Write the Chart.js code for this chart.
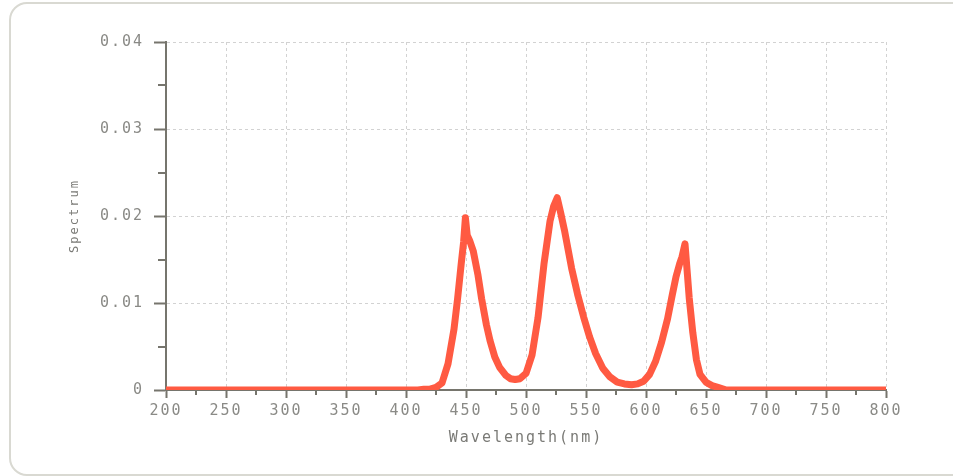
<!DOCTYPE html>
<html>
<head>
<meta charset="utf-8">
<script src="https://cdn.jsdelivr.net/npm/chart.js@4"></script>
<style>
    html, body { margin: 0; padding: 0; background: #fff; }
    #wrap { position: relative; width: 953px; height: 476px; overflow: hidden; }
    #frame {
        position: absolute; left: 9px; top: 2px; width: 970px; height: 470px;
        border: 2px solid #d9d9d2; border-radius: 18px; pointer-events: none;
    }
    canvas { position: absolute; left: 0; top: 0; }
</style>
</head>
<body>
<div id="wrap">
    <canvas id="spectrumChart" width="953" height="476"></canvas>
    <div id="frame"></div>
</div>
<script>
// Data
const wavelengths = [200, 300, 400, 410, 415, 420, 425, 430, 435, 440, 443, 446, 448, 449.5, 451, 453, 456, 460, 463, 467, 470, 474, 478, 483, 487, 491, 495, 500, 505, 510, 515, 520, 523, 526, 529, 532, 538, 543, 548, 553, 558, 564, 570, 576, 582, 588, 593, 598, 603, 608, 613, 618, 622, 625, 628, 630, 632.5, 634.5, 636, 639, 642, 645, 650, 655, 660, 667, 700, 800];
const spectrum = [0, 0, 0, 0, 0.0001, 0.0001, 0.0003, 0.0008, 0.0030, 0.0070, 0.0105, 0.0145, 0.0170, 0.0198, 0.0178, 0.0172, 0.0160, 0.0132, 0.0105, 0.0075, 0.0057, 0.0038, 0.0026, 0.0017, 0.0013, 0.0012, 0.0013, 0.0019, 0.0040, 0.0083, 0.0145, 0.0194, 0.0211, 0.0221, 0.0203, 0.0184, 0.0140, 0.0110, 0.0084, 0.0061, 0.0042, 0.0025, 0.0015, 0.0009, 0.0007, 0.0006, 0.0007, 0.0010, 0.0018, 0.0033, 0.0055, 0.0082, 0.0110, 0.0130, 0.0145, 0.0153, 0.0168, 0.0133, 0.0106, 0.0066, 0.0035, 0.0018, 0.0009, 0.0005, 0.0003, 0, 0, 0];

const xTicks = { min: 200, max: 800, step: 25 };
const yTicks = { min: 0, max: 0.04, step: 0.005 };

const axisColor = '#76756d';
const gridColor = '#d2d2d2';
const labelColor = '#8a8a86';
const mono = 'DejaVu Sans Mono';

const points = wavelengths.map((w, i) => ({ x: w, y: spectrum[i] }));

const isMinorX = v => v % 50 !== 0;
const isMinorY = v => Math.round(v * 1000) % 10 !== 0;

// wide bitmap-ish lettering like the original
const spacing = {
    id: 'spacing',
    beforeUpdate(c) { c.ctx.letterSpacing = '2px'; },
    beforeDraw(c) { c.ctx.letterSpacing = '2px'; }
};

// shorter minor ticks
const minorTicks = {
    id: 'minorTicks',
    afterDraw(c) {
        const ctx = c.ctx, xs = c.scales.x, ys = c.scales.y;
        ctx.save();
        ctx.strokeStyle = axisColor;
        ctx.lineWidth = 2;
        xs.ticks.forEach(t => {
            if (!isMinorX(t.value)) return;
            const px = Math.round(xs.getPixelForValue(t.value));
            ctx.beginPath(); ctx.moveTo(px, xs.top); ctx.lineTo(px, xs.top + 5); ctx.stroke();
        });
        ys.ticks.forEach(t => {
            if (!isMinorY(t.value)) return;
            const py = Math.round(ys.getPixelForValue(t.value));
            ctx.beginPath(); ctx.moveTo(ys.right, py); ctx.lineTo(ys.right - 8, py); ctx.stroke();
        });
        ctx.restore();
    }
};

new Chart(document.getElementById('spectrumChart'), {
    type: 'line',
    data: {
        datasets: [{
            label: 'Spectrum',
            data: points,
            borderColor: '#ff5a42',
            borderWidth: 7,
            borderJoinStyle: 'round',
            pointRadius: 0,
            tension: 0,
            fill: false
        }]
    },
    options: {
        responsive: false,
        animation: false,
        layout: { padding: { top: 42, right: 67, left: 0, bottom: 0 } },
        plugins: { legend: { display: false }, tooltip: { enabled: false } },
        scales: {
            x: {
                type: 'linear',
                min: xTicks.min, max: xTicks.max,
                afterFit: s => { s.height = 86; },
                ticks: {
                    stepSize: xTicks.step, autoSkip: false, maxRotation: 0,
                    color: labelColor, font: { family: mono, size: 15 }, padding: 4,
                    callback: v => isMinorX(v) ? '' : String(v)
                },
                grid: {
                    color: c => isMinorX(c.tick.value) ? 'rgba(0,0,0,0)' : gridColor,
                    tickColor: c => isMinorX(c.tick.value) ? 'rgba(0,0,0,0)' : axisColor,
                    tickWidth: 2, tickLength: 8, tickBorderDash: []
                },
                border: { color: axisColor, width: 2, dash: [3, 3] },
                title: {
                    display: true, text: 'Wavelength(nm)', color: '#7a7a76',
                    font: { family: mono, size: 15 }, padding: { top: 0, bottom: 29 }
                }
            },
            y: {
                min: yTicks.min, max: yTicks.max,
                afterFit: s => { s.width = 166; },
                ticks: {
                    stepSize: yTicks.step, autoSkip: false,
                    color: labelColor, font: { family: mono, size: 15 }, padding: 10,
                    callback: v => isMinorY(v) ? '' : (v === 0 ? '0' : v.toFixed(2))
                },
                grid: {
                    color: c => isMinorY(c.tick.value) ? 'rgba(0,0,0,0)' : gridColor,
                    tickColor: c => isMinorY(c.tick.value) ? 'rgba(0,0,0,0)' : axisColor,
                    tickWidth: 2, tickLength: 12, tickBorderDash: []
                },
                border: { color: axisColor, width: 2, dash: [3, 3] },
                title: {
                    display: true, text: 'Spectrum', color: '#7a7a76',
                    font: { family: mono, size: 12 }, padding: { top: 68, bottom: 0 }
                }
            }
        }
    },
    plugins: [spacing, minorTicks]
});
</script>
</body>
</html>
